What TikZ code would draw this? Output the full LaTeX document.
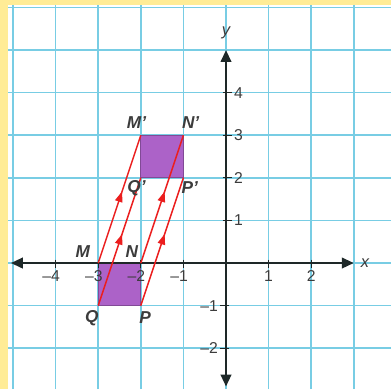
\documentclass[tikz,border=0pt]{standalone}
\usepackage{fontspec}
\setmainfont{Liberation Sans}
\usetikzlibrary{arrows.meta,decorations.markings}
\definecolor{gridblue}{RGB}{120,205,228}
\definecolor{paper}{RGB}{255,236,150}
\definecolor{shapepurple}{RGB}{172,98,200}
\definecolor{movered}{RGB}{235,30,30}
\definecolor{axisdark}{RGB}{30,40,40}
\definecolor{labelgrey}{RGB}{60,60,60}

\begin{document}
\begin{tikzpicture}[
        gridline/.style={gridblue, line width=1pt},
        axis/.style={axisdark, line width=1.6pt},
        tickmark/.style={axisdark, line width=0.8pt},
        ticklabel/.style={labelgrey, font=\fontsize{10.5}{12}\selectfont, inner sep=1pt},
        figure/.style={fill=shapepurple, draw=shapepurple!75!black, line width=0.6pt},
        move/.style={movered, line width=1pt, postaction={decorate},
            decoration={markings, mark=at position 0.56 with {\arrow{Triangle[length=7pt,width=5pt]}}}},
        ptlabel/.style={labelgrey, font=\fontsize{11.5}{13}\selectfont\bfseries\itshape, inner sep=1pt}
    ]

    % Frame
    \useasboundingbox (-5.305,-2.958) rectangle (3.873,6.174);
    \fill[white] (-5.305,-2.958) rectangle (3.873,6.174);
    \fill[paper] (-5.305,-2.958) rectangle (-5.117,6.174);
    \fill[paper] (-5.305,6.06) rectangle (3.873,6.174);

    % Grid
    \foreach \x in {-5,...,3}
        \draw[gridline] (\x,-2.958) -- (\x,6.06);
    \foreach \y in {-2,...,6}
        \draw[gridline] (-5.117,\y) -- (3.873,\y);

    % Points
    \coordinate (M) at (-3,0);
    \coordinate (N) at (-2,0);
    \coordinate (P) at (-2,-1);
    \coordinate (Q) at (-3,-1);
    \coordinate (M') at (-2,3);
    \coordinate (N') at (-1,3);
    \coordinate (P') at (-1,2);
    \coordinate (Q') at (-2,2);

    % Figures
    \draw[figure] (M) -- (N) -- (P) -- (Q) -- cycle;
    \draw[figure] (M') -- (N') -- (P') -- (Q') -- cycle;

    % Axes
    \coordinate (xl) at (-5.05,0);
    \coordinate (xr) at (3.0,0);
    \coordinate (yb) at (0,-2.9);
    \coordinate (yt) at (0,5.0);
    \draw[axis, {Triangle[length=8pt,width=7pt]}-{Triangle[length=8pt,width=7pt]}] (xl) -- (xr);
    \draw[axis, {Triangle[length=8pt,width=7pt]}-{Triangle[length=8pt,width=7pt]}] (yb) -- (yt);
    \node[labelgrey, font=\fontsize{11}{13}\selectfont\itshape] (xlab) at (3.26,0) {x};
    \node[labelgrey, font=\fontsize{11}{13}\selectfont\itshape] (ylab) at (0,5.4) {y};

    % Ticks
    \foreach \x in {-4,...,-1}
        \draw[tickmark] (\x,0.08) -- (\x,-0.12) node[ticklabel, anchor=north] {\llap{\textendash}\number-\x};
    \foreach \x in {1,2}
        \draw[tickmark] (\x,0.08) -- (\x,-0.12) node[ticklabel, anchor=north] {\x};
    \foreach \y in {1,...,4}
        \draw[tickmark] (-0.08,\y) -- (0.14,\y) node[ticklabel, anchor=west] {\y};
    \foreach \y in {-1,-2}
        \draw[tickmark] (0.08,\y) -- (-0.14,\y) node[ticklabel, anchor=east] {\textendash\number-\y};

    % Translation
    \draw[move] (Q) -- (Q');
    \draw[move] (M) -- (M');
    \draw[move] (P) -- (P');
    \draw[move] (N) -- (N');

    % Labels
    \node[ptlabel] (lM) at ([shift={(-0.36,0.26)}]M) {M};
    \node[ptlabel] (lN) at ([shift={(-0.21,0.26)}]N) {N};
    \node[ptlabel] (lP) at ([shift={(0.1,-0.29)}]P) {P};
    \node[ptlabel] (lQ) at ([shift={(-0.15,-0.29)}]Q) {Q};
    \node[ptlabel] (lM') at ([shift={(-0.1,0.29)}]M') {M'};
    \node[ptlabel] (lN') at ([shift={(0.17,0.29)}]N') {N'};
    \node[ptlabel] (lP') at ([shift={(0.15,-0.24)}]P') {P'};
    \node[ptlabel] (lQ') at ([shift={(-0.1,-0.24)}]Q') {Q'};

\end{tikzpicture}
\end{document}
